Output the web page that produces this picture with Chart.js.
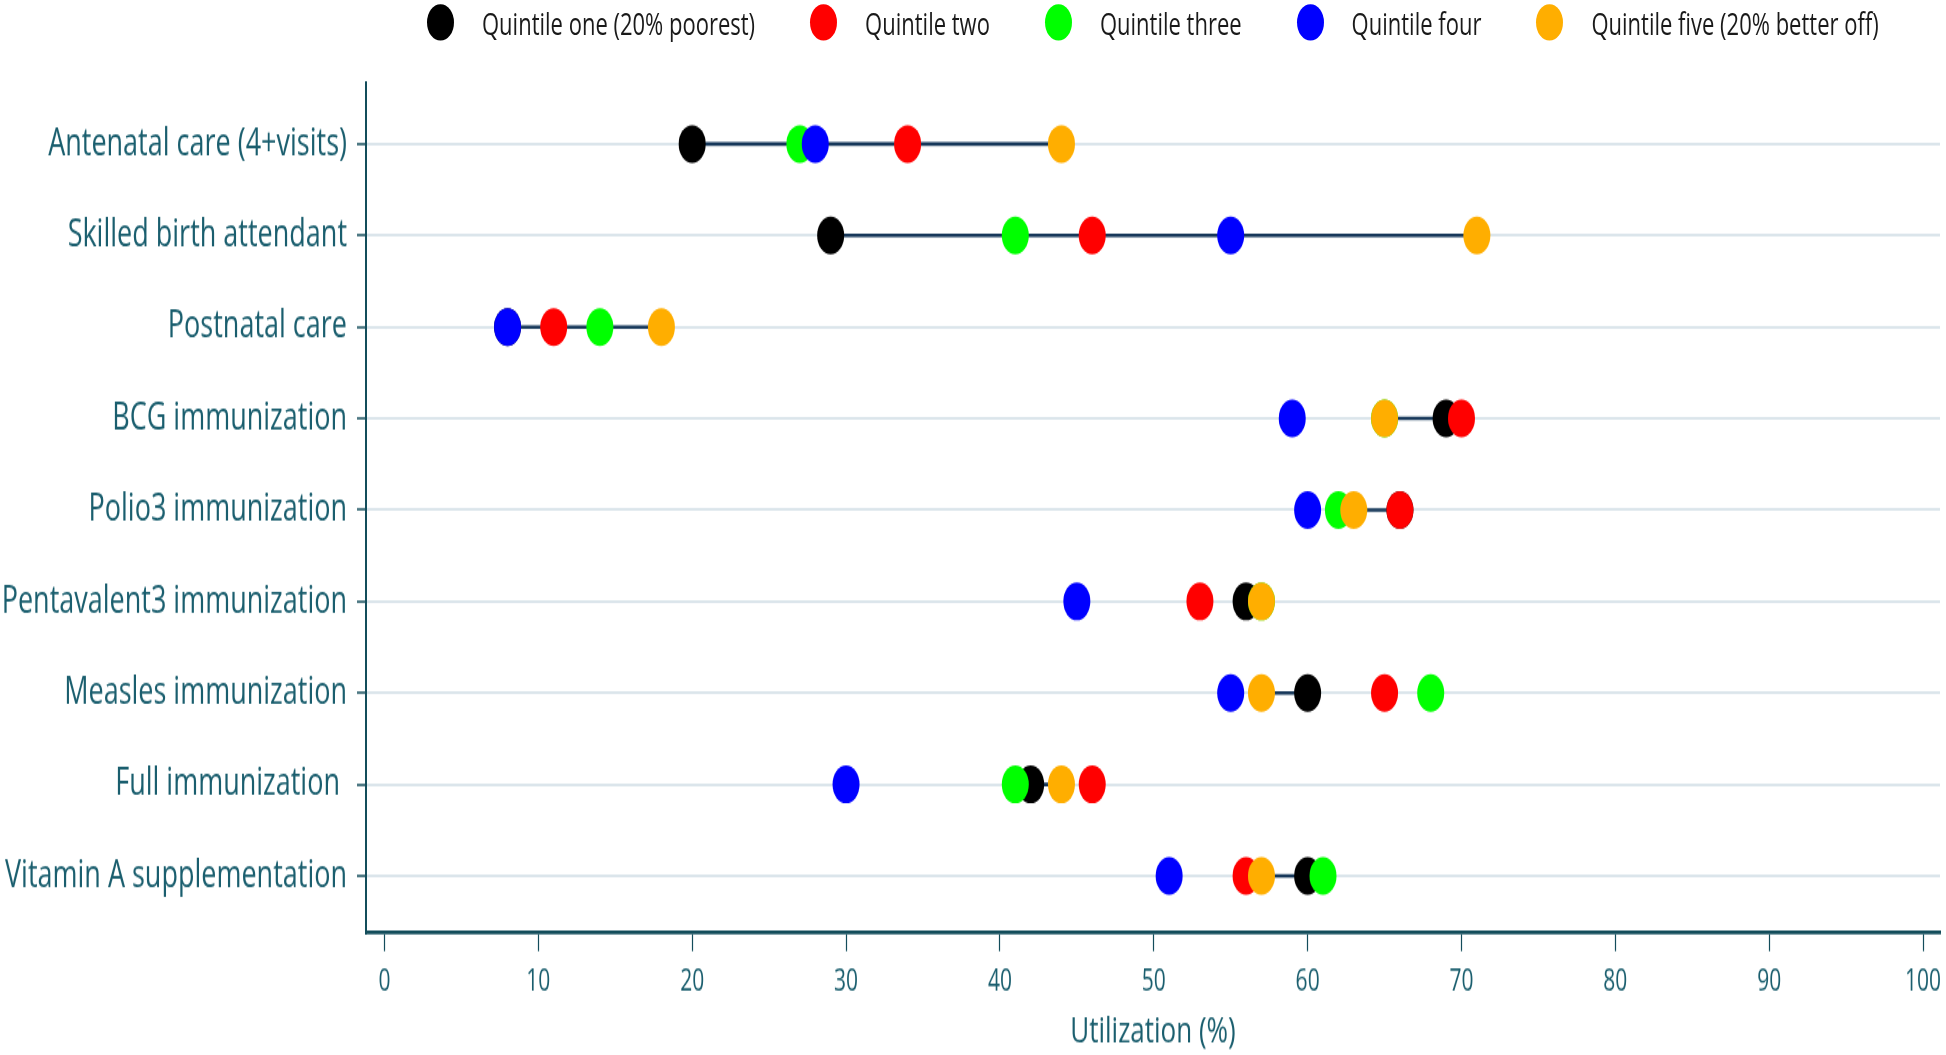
<!DOCTYPE html>
<html>
<head>
<meta charset="utf-8">
<script src="https://cdn.jsdelivr.net/npm/chart.js@4.4.1/dist/chart.umd.min.js"></script>
<style>
    html { overflow: hidden; }
    body { margin: 0; padding: 0; background: #fff; height: 1055px; }
    /* the reference is stretched vertically, so draw flat and stretch the whole thing */
    #wrap { position: relative; width: 1946px; height: 754px; transform: scaleY(1.3992); transform-origin: 0 0; }
    #legend { position: absolute; left: 427px; top: 0; height: 31px; display: flex; align-items: center;
              font-family: 'Open Sans', sans-serif; font-size: 22px; color: #1a1a1a; }
    .item { display: flex; align-items: center; margin-right: 55px; white-space: nowrap; }
    .dot { width: 27px; height: 26px; border-radius: 50%; margin-right: 28px; }
    canvas { display: block; }
</style>
</head>
<body>
<div id="wrap">
    <div id="legend"></div>
    <canvas id="chart" width="1946" height="754"></canvas>
</div>
<script>
const categories = [
    'Antenatal care (4+visits)',
    'Skilled birth attendant',
    'Postnatal care',
    'BCG immunization',
    'Polio3 immunization',
    'Pentavalent3 immunization',
    'Measles immunization',
    'Full immunization ',
    'Vitamin A supplementation'
];

const quintileNames = ['Quintile one (20% poorest)', 'Quintile two', 'Quintile three', 'Quintile four', 'Quintile five (20% better off)'];
const quintileColors = ['#000000', '#ff0000', '#00ff00', '#0000ff', '#ffae00'];

const q1 = [20, 29, 8, 69, 66, 56, 60, 42, 60];
const q2 = [34, 46, 11, 70, 66, 53, 65, 46, 56];
const q3 = [27, 41, 14, 65, 62, 57, 68, 41, 61];
const q4 = [28, 55, 8, 59, 60, 45, 55, 30, 51];
const q5 = [44, 71, 18, 65, 63, 57, 57, 44, 57];

const xTicks = [0, 10, 20, 30, 40, 50, 60, 70, 80, 90, 100];

const fontFamily = "'Open Sans', sans-serif";
const textColor = '#1a5e6e';
const axisColor = '#134d5b';
const gridColor = '#dbe5eb';

const quintiles = [q1, q2, q3, q4, q5];

// later quintiles sit on top of earlier ones
const pointSets = quintiles.map((vals, k) => ({
    label: quintileNames[k],
    data: vals.map((v, i) => ({x: v, y: i})),
    backgroundColor: quintileColors[k],
    borderWidth: 0,
    pointRadius: 13.5,
    pointHoverRadius: 13.5,
    order: 5 - k
}));

// line from poorest to richest quintile on each row
const rangeLines = categories.map((c, i) => ({
    label: 'range',
    isRange: true,
    data: [{x: q1[i], y: i}, {x: q5[i], y: i}],
    showLine: true,
    borderColor: '#17385a',
    borderWidth: 2.6,
    pointRadius: 0,
    pointHoverRadius: 0,
    order: 10
}));

const htmlLegend = {
    id: 'htmlLegend',
    afterUpdate(chart){
        const box = document.getElementById('legend');
        box.innerHTML = '';
        chart.data.datasets.forEach(ds => {
            if(ds.isRange) return;
            const item = document.createElement('div');
            item.className = 'item';
            const dot = document.createElement('span');
            dot.className = 'dot';
            dot.style.background = ds.backgroundColor;
            const txt = document.createElement('span');
            txt.textContent = ds.label;
            item.appendChild(dot);
            item.appendChild(txt);
            box.appendChild(item);
        });
    }
};

const ctx = document.getElementById('chart').getContext('2d');
const chart = new Chart(ctx, {
    type: 'scatter',
    data: {
        datasets: [...pointSets, ...rangeLines]
    },
    plugins: [htmlLegend],
    options: {
        responsive: false,
        animation: false,
        layout: {autoPadding: false, padding: {top: 59.3, right: 6, left: 0, bottom: 0}},
        plugins: {
            legend: {display: false},
            tooltip: {enabled: false}
        },
        scales: {
            x: {
                type: 'linear',
                min: -1.2,
                max: 101.1,
                afterBuildTicks: (s) => { s.ticks = xTicks.map(v => ({value: v})); },
                afterFit: (s) => { s.height = 87.2; s.paddingRight = 0; },
                grid: {drawOnChartArea: false, tickLength: 13, tickColor: axisColor, tickWidth: 1.2},
                border: {color: axisColor, width: 2.8},
                ticks: {color: textColor, font: {family: fontFamily, size: 21}, padding: 9.6, maxRotation: 0, autoSkip: false},
                title: {display: true, text: 'Utilization (%)', color: textColor, font: {family: fontFamily, size: 26}, padding: {top: 6, bottom: 0.5}}
            },
            y: {
                type: 'linear',
                reverse: true,
                min: -0.667,
                max: 8.624,
                afterBuildTicks: (s) => { s.ticks = categories.map((c, i) => ({value: i})); },
                afterFit: (s) => { s.width = 366; },
                grid: {color: gridColor, lineWidth: 2, tickLength: 9, tickColor: axisColor, tickWidth: 1.5},
                border: {color: axisColor, width: 2},
                ticks: {
                    color: textColor,
                    font: {family: fontFamily, size: 27},
                    padding: 10,
                    autoSkip: false,
                    callback: (v) => categories[v]
                }
            }
        }
    }
});
</script>
</body>
</html>
